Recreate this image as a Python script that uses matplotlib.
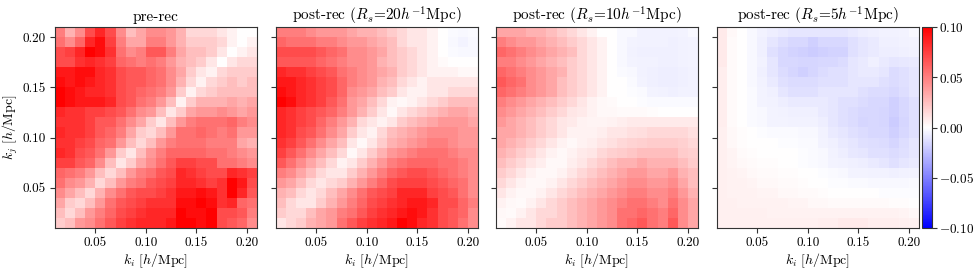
import numpy as np
import matplotlib
matplotlib.use("Agg")
import matplotlib.pyplot as plt

plt.rcParams['font.family'] = 'serif'
plt.rcParams['font.serif'] = ['cmr10']
plt.rcParams['mathtext.fontset'] = 'cm'
plt.rcParams['axes.formatter.use_mathtext'] = True
plt.rcParams['font.size'] = 10
plt.rcParams['axes.edgecolor'] = '0.2'

# valores en unidades de 1e-3, filas de arriba (k_j=0.205) hacia abajo (k_j=0.015)
k_edges = [0.01, 0.21]

pre_rec = [
    [50, 30, 45, 70, 85, 70, 45, 25, 35, 45, 45, 40, 30, 15, 15, 15, 10, 5, 0, 0],
    [55, 45, 60, 85, 95, 75, 50, 35, 35, 50, 50, 40, 30, 20, 20, 20, 15, 5, 0, 5],
    [70, 75, 85, 100, 95, 80, 55, 45, 50, 65, 65, 50, 35, 25, 25, 20, 10, 0, 5, 10],
    [70, 70, 80, 85, 80, 75, 60, 55, 50, 55, 50, 40, 30, 25, 20, 10, 0, 10, 15, 15],
    [90, 90, 95, 95, 85, 80, 70, 65, 65, 60, 55, 45, 35, 20, 10, 5, 15, 20, 20, 20],
    [95, 90, 95, 90, 85, 80, 70, 65, 65, 60, 55, 45, 30, 15, 5, 15, 20, 25, 20, 25],
    [100, 95, 90, 85, 85, 80, 70, 65, 60, 55, 50, 40, 20, 5, 15, 20, 25, 25, 25, 25],
    [100, 95, 90, 90, 90, 85, 70, 65, 55, 50, 40, 25, 5, 20, 30, 30, 30, 35, 30, 35],
    [85, 80, 80, 75, 75, 70, 65, 55, 45, 40, 25, 10, 20, 35, 40, 40, 45, 40, 35, 40],
    [80, 80, 80, 75, 65, 65, 55, 45, 35, 20, 10, 25, 40, 50, 55, 55, 55, 60, 50, 45],
    [85, 80, 80, 75, 65, 60, 50, 35, 20, 15, 25, 40, 55, 55, 60, 55, 50, 55, 40, 40],
    [80, 80, 75, 70, 60, 55, 40, 25, 15, 25, 40, 50, 55, 55, 55, 50, 50, 50, 35, 30],
    [85, 80, 70, 65, 55, 40, 20, 10, 25, 40, 50, 60, 60, 60, 60, 55, 55, 50, 45, 40],
    [75, 75, 65, 60, 45, 25, 10, 20, 35, 45, 55, 65, 75, 75, 70, 70, 55, 55, 50, 45],
    [60, 55, 50, 40, 25, 15, 25, 40, 50, 55, 65, 70, 85, 80, 75, 70, 70, 85, 80, 75],
    [55, 45, 40, 30, 15, 25, 40, 50, 55, 65, 70, 75, 85, 85, 80, 75, 80, 100, 90, 70],
    [45, 35, 25, 15, 30, 45, 55, 65, 70, 70, 75, 80, 90, 90, 95, 90, 80, 100, 85, 65],
    [35, 20, 15, 25, 40, 55, 65, 70, 75, 80, 80, 80, 95, 95, 100, 95, 80, 85, 60, 55],
    [25, 15, 25, 40, 50, 60, 70, 75, 80, 85, 85, 85, 100, 95, 95, 100, 70, 70, 65, 50],
    [20, 25, 40, 45, 55, 65, 75, 80, 85, 85, 85, 90, 100, 100, 95, 100, 70, 65, 60, 45],
]

post_rs20 = [
    [50, 50, 50, 45, 40, 40, 40, 35, 30, 30, 25, 20, 15, 10, 10, 5, 0, -2, -3, -2],
    [60, 55, 55, 55, 50, 50, 45, 40, 40, 35, 30, 25, 15, 10, 10, 5, 0, -3, -4, -3],
    [70, 70, 70, 70, 65, 60, 55, 45, 45, 40, 35, 25, 20, 15, 10, 5, 0, -2, -3, -3],
    [65, 65, 65, 65, 60, 55, 50, 45, 45, 40, 30, 25, 20, 15, 10, 5, 2, 0, 0, 0],
    [85, 80, 80, 75, 70, 65, 55, 50, 45, 40, 35, 30, 20, 15, 10, 5, 5, 5, 3, 3],
    [90, 90, 85, 80, 75, 70, 60, 50, 45, 40, 30, 25, 15, 10, 5, 10, 10, 10, 10, 10],
    [95, 90, 85, 80, 75, 70, 60, 45, 40, 35, 25, 20, 10, 5, 5, 10, 10, 15, 15, 15],
    [100, 95, 85, 80, 75, 65, 55, 40, 35, 25, 15, 5, 3, 5, 10, 15, 20, 25, 25, 25],
    [85, 80, 75, 70, 65, 60, 50, 40, 30, 20, 10, 3, 10, 15, 20, 25, 30, 35, 35, 30],
    [85, 80, 75, 70, 60, 50, 40, 30, 15, 10, 5, 10, 20, 25, 30, 35, 40, 40, 40, 35],
    [85, 80, 70, 65, 55, 45, 35, 20, 10, 5, 15, 25, 30, 35, 40, 45, 45, 45, 40, 40],
    [80, 75, 65, 55, 45, 35, 25, 10, 3, 10, 20, 30, 35, 40, 45, 50, 50, 45, 40, 40],
    [75, 65, 55, 45, 35, 25, 15, 3, 10, 20, 30, 40, 45, 50, 55, 55, 55, 50, 45, 45],
    [65, 55, 45, 35, 25, 15, 5, 10, 20, 30, 40, 50, 55, 60, 60, 60, 55, 55, 50, 45],
    [50, 45, 35, 25, 15, 10, 10, 20, 30, 40, 50, 60, 65, 70, 70, 65, 60, 55, 50, 45],
    [40, 35, 25, 15, 10, 15, 20, 30, 40, 50, 60, 70, 75, 75, 75, 70, 65, 60, 55, 45],
    [30, 25, 15, 10, 15, 25, 35, 45, 55, 65, 70, 75, 85, 85, 85, 75, 70, 65, 55, 45],
    [25, 15, 10, 10, 20, 30, 40, 50, 60, 70, 75, 80, 85, 90, 90, 85, 70, 70, 60, 50],
    [20, 15, 15, 25, 35, 40, 50, 55, 65, 75, 80, 85, 90, 95, 90, 80, 70, 65, 60, 45],
    [10, 15, 20, 30, 35, 40, 55, 65, 75, 80, 85, 90, 100, 95, 85, 80, 70, 65, 55, 45],
]

post_rs10 = [
    [35, 35, 35, 30, 30, 25, 20, 15, 10, 5, 0, 0, -3, -3, -5, -5, -5, -5, -4, -3],
    [50, 45, 40, 40, 35, 30, 25, 20, 15, 10, 5, 0, -3, -4, -5, -5, -5, -6, -5, -4],
    [60, 55, 50, 45, 40, 35, 30, 25, 15, 10, 5, 0, -3, -5, -6, -6, -6, -6, -5, -4],
    [50, 50, 45, 40, 35, 30, 25, 20, 15, 10, 5, 0, -3, -4, -5, -5, -6, -6, -5, -4],
    [60, 55, 50, 45, 40, 35, 30, 20, 15, 10, 5, 0, -2, -3, -5, -6, -7, -7, -6, -5],
    [65, 60, 55, 45, 40, 35, 25, 20, 15, 10, 5, 0, 0, -2, -4, -6, -7, -7, -6, -5],
    [60, 55, 50, 45, 40, 35, 25, 20, 15, 10, 5, 0, 0, -1, -2, -4, -5, -6, -5, -5],
    [50, 45, 40, 35, 30, 25, 20, 15, 10, 5, 3, 2, 0, 0, -1, -2, -2, -2, -2, -2],
    [45, 40, 35, 30, 25, 20, 15, 10, 8, 5, 3, 3, 2, 2, 2, 1, 0, 0, 0, 0],
    [40, 35, 30, 25, 20, 15, 10, 8, 5, 4, 4, 5, 7, 8, 8, 8, 8, 8, 8, 8],
    [35, 35, 30, 25, 20, 15, 10, 5, 5, 5, 7, 10, 10, 12, 13, 15, 15, 15, 15, 12],
    [35, 30, 25, 20, 15, 10, 5, 3, 5, 7, 10, 12, 15, 17, 18, 20, 20, 20, 18, 15],
    [30, 25, 20, 15, 10, 5, 3, 5, 8, 10, 15, 18, 20, 22, 25, 25, 25, 25, 20, 18],
    [25, 20, 15, 10, 7, 3, 3, 7, 10, 15, 20, 25, 30, 30, 35, 30, 30, 30, 25, 20],
    [20, 15, 10, 5, 3, 3, 5, 10, 15, 20, 25, 30, 35, 40, 40, 35, 35, 40, 30, 25],
    [15, 10, 5, 3, 3, 5, 10, 15, 20, 25, 30, 35, 40, 45, 45, 40, 40, 45, 35, 25],
    [10, 5, 3, 3, 5, 10, 15, 20, 25, 30, 35, 40, 45, 50, 50, 45, 45, 50, 40, 30],
    [5, 3, 2, 5, 10, 15, 20, 25, 30, 35, 40, 45, 50, 55, 55, 50, 45, 55, 45, 35],
    [3, 2, 5, 10, 15, 15, 20, 25, 30, 35, 40, 45, 55, 55, 60, 55, 50, 60, 45, 35],
    [2, 5, 10, 10, 15, 20, 20, 25, 30, 35, 40, 45, 55, 60, 65, 55, 50, 65, 45, 35],
]

post_rs5 = [
    [8, 3, 0, -3, -5, -7, -8, -10, -10, -10, -10, -10, -10, -8, -7, -6, -5, -5, -4, -3],
    [8, 2, 0, -3, -6, -10, -13, -15, -15, -18, -15, -15, -15, -12, -10, -8, -6, -6, -5, -4],
    [8, 2, 0, -3, -6, -12, -15, -17, -18, -20, -18, -17, -17, -12, -10, -8, -7, -7, -6, -5],
    [8, 2, 0, -3, -5, -10, -15, -15, -16, -16, -15, -15, -14, -10, -8, -6, -8, -10, -9, -8],
    [7, 2, 0, -3, -6, -10, -14, -16, -18, -16, -14, -12, -12, -10, -8, -8, -10, -14, -12, -10],
    [7, 2, 0, -3, -5, -8, -12, -14, -14, -14, -12, -12, -12, -10, -10, -10, -12, -14, -12, -10],
    [7, 2, 0, -2, -4, -6, -10, -12, -12, -12, -10, -10, -10, -10, -12, -14, -14, -15, -13, -10],
    [7, 2, 0, -2, -4, -5, -7, -8, -8, -8, -8, -10, -12, -12, -14, -15, -15, -18, -15, -12],
    [7, 2, 0, -2, -3, -4, -5, -6, -6, -6, -8, -10, -12, -14, -15, -15, -16, -18, -15, -12],
    [7, 2, 0, -2, -3, -4, -4, -5, -5, -5, -7, -10, -12, -14, -16, -15, -16, -20, -16, -12],
    [6, 3, 1, 0, -1, -2, -2, -2, -3, -3, -5, -8, -10, -12, -14, -15, -15, -18, -15, -12],
    [6, 3, 1, 0, 0, 0, -1, -1, -2, -2, -4, -6, -8, -10, -12, -13, -14, -16, -13, -10],
    [6, 4, 2, 1, 0, 0, 0, 0, -1, -2, -3, -5, -7, -9, -10, -12, -12, -14, -12, -10],
    [6, 4, 3, 2, 1, 1, 0, 0, -1, -2, -3, -4, -5, -6, -7, -8, -10, -12, -10, -8],
    [6, 5, 4, 3, 2, 2, 1, 1, 0, 0, -1, -2, -3, -4, -4, -5, -5, -6, -5, -4],
    [6, 5, 5, 4, 3, 3, 2, 2, 1, 0, 0, -1, -1, -2, -2, -3, -3, -3, -3, -2],
    [6, 5, 5, 5, 4, 4, 3, 3, 2, 2, 1, 0, 0, 0, 0, 0, -1, -1, -1, -1],
    [6, 6, 5, 5, 5, 5, 5, 4, 4, 3, 3, 2, 2, 2, 2, 2, 2, 1, 1, 0],
    [6, 6, 6, 6, 6, 5, 5, 5, 5, 5, 5, 5, 5, 5, 5, 5, 5, 5, 4, 3],
    [6, 6, 6, 6, 6, 6, 6, 6, 6, 6, 7, 7, 8, 8, 8, 7, 7, 7, 6, 5],
]

titles = ['pre-rec',
          r'post-rec ($R_s$=20$h^{-1}$Mpc)',
          r'post-rec ($R_s$=10$h^{-1}$Mpc)',
          r'post-rec ($R_s$=5$h^{-1}$Mpc)']
matrices = [pre_rec, post_rs20, post_rs10, post_rs5]
ticks = [0.05, 0.10, 0.15, 0.20]
tick_labels = ['0.05', '0.10', '0.15', '0.20']

fig = plt.figure(figsize=(9.8, 2.76), dpi=100)
lefts = [0.0561, 0.2816, 0.5061, 0.7316]
for n in range(4):
    ax = fig.add_axes([lefts[n], 0.174, 0.206, 0.728])
    m = np.array(matrices[n]) * 1e-3
    im = ax.imshow(m, cmap='bwr', vmin=-0.1, vmax=0.1, origin='upper',
                   extent=[k_edges[0], k_edges[1], k_edges[0], k_edges[1]],
                   interpolation='nearest', aspect='auto')
    ax.set_xticks(ticks)
    ax.set_yticks(ticks)
    ax.set_xticklabels(tick_labels)
    ax.tick_params(labelsize=9.5, pad=3, color='0.2')
    ax.set_title(titles[n], fontsize=11, pad=4)
    ax.set_xlabel(r'$k_i\ [h/\mathrm{Mpc}]$', fontsize=10, labelpad=2)
    if n == 0:
        ax.set_yticklabels(tick_labels)
        ax.set_ylabel(r'$k_j\ [h/\mathrm{Mpc}]$', fontsize=10, labelpad=2)
    else:
        ax.set_yticklabels([])

cax = fig.add_axes([0.9408, 0.174, 0.0102, 0.728])
cb = fig.colorbar(im, cax=cax)
cb.set_ticks([-0.1, -0.05, 0.0, 0.05, 0.1])
cb.set_ticklabels([r'$-0.10$', r'$-0.05$', r'$0.00$', r'$0.05$', r'$0.10$'])
cb.ax.tick_params(labelsize=9.5, pad=1.5, color='0.2')
cb.outline.set_edgecolor('0.2')

plt.savefig('out.png', dpi=100)
